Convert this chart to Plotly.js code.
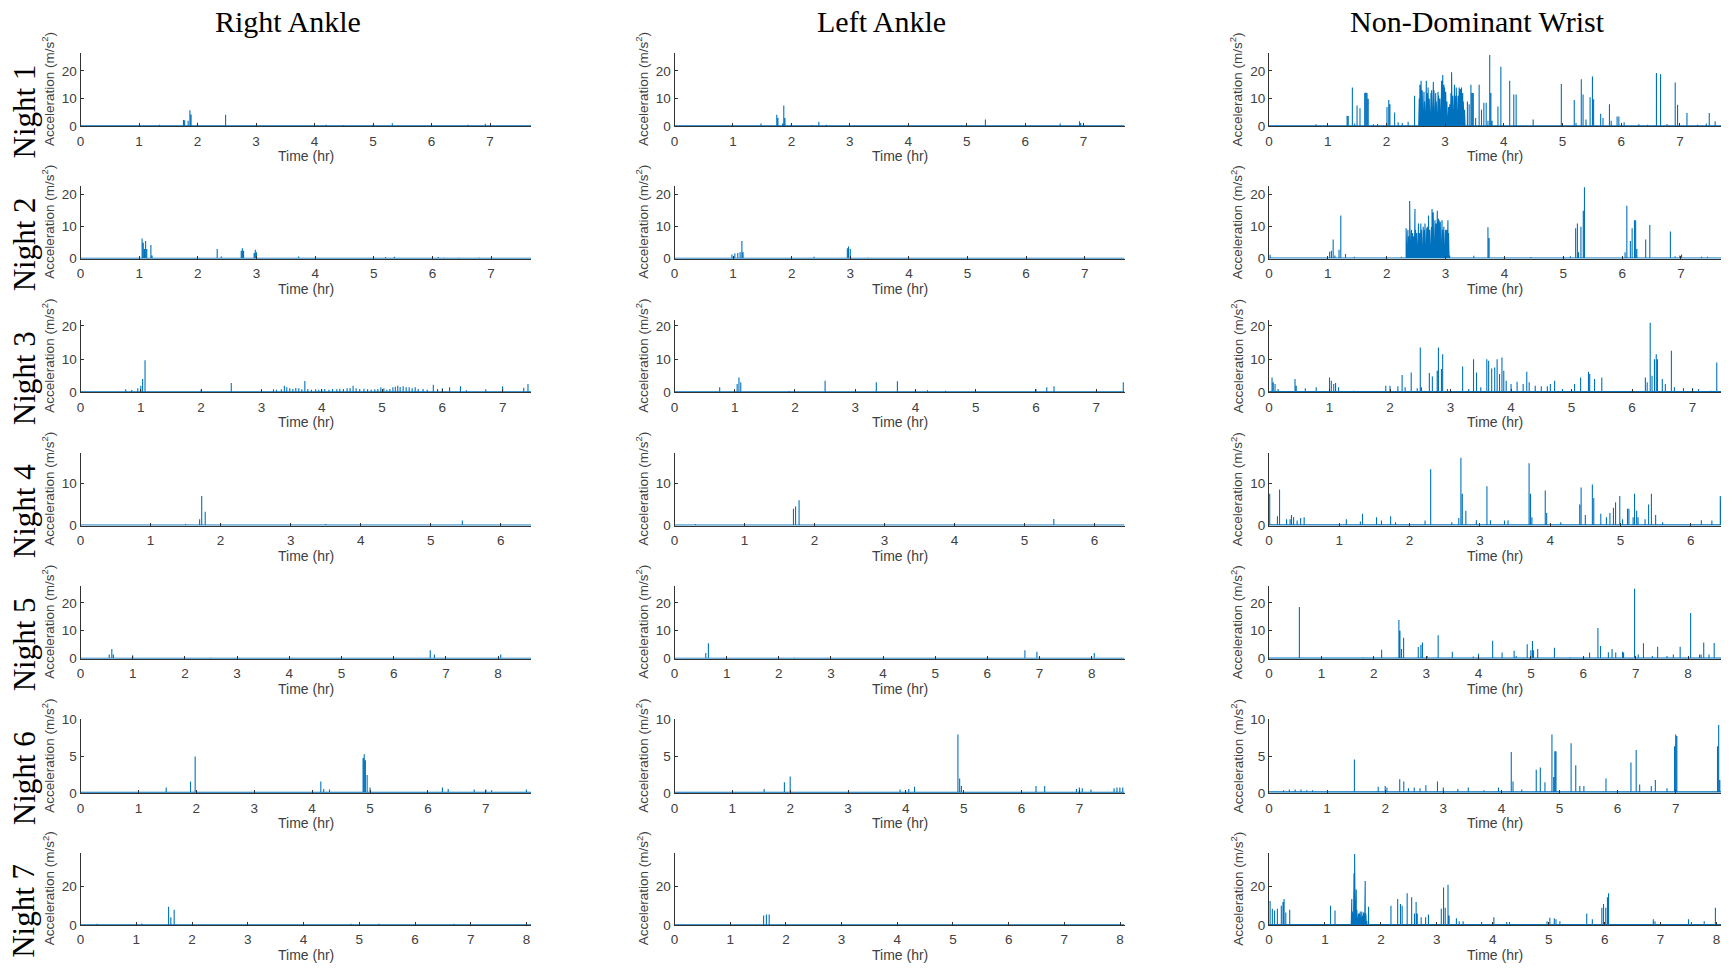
<!DOCTYPE html>
<html>
<head>
<meta charset="utf-8">
<script src="https://cdn.plot.ly/plotly-3.0.1.min.js"></script>
<style>html,body{margin:0;padding:0;background:#fff;}#chart{width:1732px;height:968px;}</style>
</head>
<body>
<div id="chart"></div>
<script>
// ---------------- DATA ----------------
const sensorNames = ['Right Ankle', 'Left Ankle', 'Non-Dominant Wrist'];
const nightNames = ['Night 1', 'Night 2', 'Night 3', 'Night 4', 'Night 5', 'Night 6', 'Night 7'];
const nightHours = [7.7, 7.68, 7.47, 6.43, 8.63, 7.78, 8.08];
const rowYMax = [26.6, 22.7, 21.8, 17.2, 26.0, 10.1, 37.7];
const rowYTicks = [[0, 10, 20], [0, 10, 20], [0, 10, 20], [0, 10], [0, 10, 20], [0, 5, 10], [0, 20]];
const restLevel = [0.15, 0.15, 0.2];
const yTitle = 'Acceleration (m/s<sup>2</sup>)';
const xTitle = 'Time (hr)';

// spikes: [time (hr), peak acceleration (m/s^2)]
const n1Right = [[1.35,0.6],[1.76,2.3],[1.78,2.2],[1.84,2.0],[1.87,5.8],[1.89,4.3],[2.0,1.3],[2.48,4.2],[4.2,0.6],[4.5,0.5],[5.0,0.6],[5.33,1.1],[6.62,0.6],[6.92,0.9]];
const n1Left = [[1.48,1.0],[1.75,4.2],[1.77,3.0],[1.85,1.0],[1.87,7.5],[1.89,3.0],[2.0,0.9],[2.35,0.5],[2.47,1.6],[2.6,0.6],[2.8,0.4],[5.32,2.5],[6.6,1.0],[6.93,1.8],[6.95,1.2]];
const n1Wrist = [[0.8,0.7],[1.33,3.8],[1.35,3.7],[1.42,14],[1.46,1],[1.5,7.5],[1.55,6.5],[1.63,12],[1.65,12.2],[1.67,12],[1.69,10],[1.78,0.7],[1.85,0.8],[2.01,7],[2.04,9.5],[2.06,8],[2.14,5],[2.2,1.5],[2.27,1.2],[2.37,1.6],
 [2.48,11],[2.55,6],[2.56,10],[2.57,15],[2.58,12],[2.59,16.5],[2.60,14],[2.61,13],[2.62,8],[2.63,10],[2.64,12.5],[2.65,9],[2.66,6],[2.67,11],[2.68,16.5],[2.69,12],[2.70,10],[2.71,14],[2.72,11],[2.73,10],[2.74,9],[2.75,10.5],[2.76,12],[2.77,13],[2.78,9],[2.79,11],[2.80,16],[2.81,13],[2.82,10],[2.83,10],[2.84,12],[2.85,9],[2.86,7],[2.87,10],[2.88,12.5],[2.89,11],[2.90,9],[2.91,10],[2.92,8],[2.93,9],[2.94,16.5],[2.95,13],[2.96,18.5],[2.97,12],[2.98,15],[2.99,14],[3.00,11],[3.01,12.5],[3.02,10],[3.03,9],[3.04,8],[3.05,6],[3.06,7],[3.07,4],[3.08,8],[3.09,10],[3.10,12],[3.11,19.5],[3.12,14.5],[3.13,11],[3.14,9],[3.15,12],[3.16,15],[3.17,11],[3.18,10],[3.19,14],[3.20,10],[3.21,8],[3.22,11],[3.23,12],[3.24,14],[3.25,12],[3.26,13.5],[3.27,10],[3.28,14],[3.29,11],[3.30,12],[3.31,9],[3.32,8],[3.33,6],[3.34,4],[3.38,9],[3.41,8],[3.44,15],[3.46,12],[3.48,12],[3.52,3],[3.58,15],[3.62,6],[3.66,8.5],[3.70,8.5],[3.73,2],[3.76,25.8],[3.78,12],[3.80,2],
 [3.9,7.2],[3.95,21.5],[4.1,16.5],[4.17,11.5],[4.21,11.5],[4.5,2.5],[4.98,15.3],[5.2,9.5],[5.23,1.2],[5.32,17],[5.35,11.5],[5.4,2.5],[5.47,10.5],[5.51,18],[5.53,9.8],[5.65,4.5],[5.69,3],[5.8,8],[5.83,2],[5.93,3.5],[5.96,3.5],[6.05,1.5],[6.3,0.7],[6.45,0.6],[6.6,19.3],[6.67,18.8],[6.78,0.8],[6.92,15.8],[6.96,7.8],[7.12,4.8],[7.3,0.6],[7.45,1],[7.5,4.8],[7.6,1.8]];

const n2Right = [[1.05,6.3],[1.07,5.0],[1.09,3.0],[1.11,5.5],[1.13,3],[1.2,4.3],[1.22,1],[2.33,3.0],[2.4,0.7],[2.74,2.5],[2.76,3.3],[2.78,2.5],[2.96,1.8],[2.98,2.8],[3.0,2.0],[3.72,0.7],[5.2,0.5],[5.35,0.6],[6.1,0.5],[6.2,0.4],[6.45,0.4],[6.8,0.4]];
const n2Left = [[0.98,1.3],[1.03,1.6],[1.08,1.8],[1.12,2],[1.15,5.5],[1.17,2],[2.38,0.6],[2.95,3.3],[2.97,3.8],[3.0,3.0],[3.3,0.4],[4.4,0.3],[5.3,0.3]];
const n2Wrist = [[0.02,1.2],[1.03,2.2],[1.06,2.5],[1.09,6],[1.12,1],[1.19,2.8],[1.22,13.5],[1.3,1.5],[1.45,0.6],[2.25,0.6],
 [2.33,9.5],[2.34,8],[2.35,7],[2.36,9],[2.37,6.5],[2.38,7],[2.39,18],[2.40,10],[2.41,8],[2.42,9],[2.43,7],[2.44,8],[2.45,6],[2.46,7],[2.47,9],[2.48,15.5],[2.49,9],[2.50,7],[2.51,8],[2.52,8],[2.53,9],[2.54,11],[2.55,6],[2.56,8],[2.57,9],[2.58,11],[2.59,9],[2.60,7],[2.61,8],[2.62,10],[2.63,8],[2.64,9],[2.65,11],[2.66,8],[2.67,7],[2.68,9.5],[2.69,10],[2.70,8],[2.71,13.5],[2.72,9],[2.73,9],[2.74,8],[2.75,9],[2.76,10],[2.77,15.5],[2.78,11],[2.79,14.5],[2.80,9],[2.81,10],[2.82,12],[2.83,10],[2.84,11],[2.85,12],[2.86,15],[2.87,10],[2.88,12.5],[2.89,12],[2.90,10],[2.91,11.5],[2.92,11],[2.93,10],[2.94,12],[2.95,9],[2.96,9],[2.97,10],[2.98,8],[2.99,7],[3.00,9],[3.01,8],[3.02,9],[3.03,10],[3.04,12],[3.05,8],[3.06,7],[3.07,1],
 [3.48,0.9],[3.72,9.8],[3.74,6.5],[4.45,0.5],[5.0,0.6],[5.12,0.8],[5.21,9.5],[5.24,11],[5.26,2],[5.3,10],[5.34,15],[5.36,22.3],[6.05,2],[6.08,16.5],[6.14,5.5],[6.17,9.5],[6.21,12],[6.23,12],[6.25,3],[6.4,6],[6.47,10.5],[6.82,8.5],[6.9,0.8],[6.98,1],[7.01,1.3],[7.35,0.6],[7.45,0.6]];

const n3Right = [[0.75,0.9],[0.85,0.7],[0.95,1.2],[1.0,2.0],[1.03,4.0],[1.07,9.7],[2.0,0.8],[2.5,2.8],[3.0,0.6],[3.2,0.9],[3.25,0.8],[3.33,0.9],[3.38,2.0],[3.42,1.5],[3.47,1.2],[3.52,1.0],[3.57,1.3],[3.62,1.2],[3.67,0.9],[3.72,3.4],[3.77,1.0],[3.83,0.8],[3.9,0.9],[3.95,0.8],[4.0,0.9],[4.05,1.0],[4.12,0.8],[4.18,1.0],[4.25,0.9],[4.3,1.1],[4.36,1.0],[4.42,1.2],[4.47,1.3],[4.52,2.0],[4.57,1.2],[4.63,1.0],[4.7,1.1],[4.76,0.9],[4.82,0.8],[4.88,0.9],[4.93,1.0],[4.98,1.5],[5.03,1.2],[5.08,0.8],[5.13,1.0],[5.18,1.5],[5.22,1.7],[5.26,2.0],[5.3,1.6],[5.35,1.8],[5.4,1.5],[5.45,1.5],[5.5,1.2],[5.55,1.5],[5.6,1.0],[5.68,1.0],[5.75,0.8],[5.85,2.3],[5.92,1.0],[6.0,1.2],[6.12,1.5],[6.3,1.8],[6.4,0.6],[6.72,0.9],[7.0,1.8],[7.35,1.4],[7.42,2.5]];
const n3Left = [[0.75,1.5],[1.04,2.5],[1.07,4.5],[1.1,3],[1.9,0.4],[2.5,3.5],[3.35,3.0],[3.7,3.3],[4.0,0.8],[4.2,0.6],[4.5,0.5],[5.0,0.4],[6.0,1.0],[6.18,1.5],[6.3,1.8],[7.45,3.0]];
const n3Wrist = [[0.05,4.5],[0.07,3],[0.1,2.5],[0.15,1],[0.43,4],[0.45,2],[0.6,1.2],[0.78,1.5],[1.0,4.5],[1.03,3.5],[1.07,2.5],[1.1,2.8],[1.15,1.5],[1.4,0.5],[1.93,2.0],[2.0,2],[2.13,1.8],[2.2,5.2],[2.25,1.5],[2.35,6],[2.45,1.2],[2.5,13.5],[2.52,1.5],[2.65,5.8],[2.7,4.8],[2.78,6.5],[2.8,13.5],[2.85,7],[2.87,11.5],[2.95,1],[3.2,7.8],[3.3,1],[3.38,10],[3.43,6],[3.5,1.5],[3.6,10],[3.63,9.5],[3.68,7.2],[3.73,7.5],[3.77,10],[3.81,5.5],[3.85,10.5],[3.88,6.5],[3.92,3.5],[4.0,2.5],[4.1,3.2],[4.2,2.5],[4.26,6.2],[4.3,3],[4.4,2.0],[4.5,1.8],[4.6,1.8],[4.65,2.5],[4.72,3.5],[4.85,1],[5.05,2.5],[5.15,4.5],[5.28,6.2],[5.3,5.5],[5.38,4],[5.5,4.5],[6.0,0.5],[6.22,4.5],[6.25,3],[6.3,21],[6.33,5],[6.37,10],[6.4,11.5],[6.42,10],[6.5,4],[6.55,2.5],[6.65,12.5],[6.7,1.5],[6.85,1.3],[7.0,1.3],[7.1,1],[7.3,0.5],[7.4,9]];

const n4Right = [[1.5,0.4],[1.7,1.5],[1.73,7.0],[1.78,3.3],[3.5,0.4],[5.45,1.2]];
const n4Left = [[0.3,0.4],[1.0,0.5],[1.7,4.0],[1.73,4.5],[1.78,6.0],[4.0,0.5],[5.42,1.6]];
const n4Wrist = [[0.01,7.5],[0.12,2.2],[0.15,8.5],[0.25,1.5],[0.3,1.5],[0.32,2.5],[0.35,2],[0.4,1.2],[0.45,1.8],[0.5,2.0],[1.1,1.5],[1.3,1],[1.33,2.8],[1.53,2],[1.6,1.2],[1.73,2.2],[1.8,0.8],[2.22,1.2],[2.3,13.3],[2.6,0.8],[2.7,1.8],[2.73,16],[2.75,7.5],[2.8,3.5],[2.95,1.3],[3.1,9.3],[3.15,1.3],[3.35,1.2],[3.4,1.3],[3.7,14.7],[3.72,7.5],[3.74,2],[3.93,8.3],[3.95,3],[4.15,0.8],[4.42,5],[4.44,9],[4.5,2.5],[4.6,9.7],[4.62,6.5],[4.72,2.8],[4.8,2],[4.85,3],[4.9,4.2],[4.93,5.5],[4.99,7],[5.03,1.5],[5.1,4.0],[5.12,4.0],[5.18,2],[5.2,7.5],[5.23,3.5],[5.25,2],[5.35,1.5],[5.4,5],[5.44,7.5],[5.5,2.5],[5.6,0.8],[6.15,1.3],[6.3,1.2],[6.42,7]];

const n5Right = [[0.55,1.5],[0.6,3.5],[0.63,1.5],[1.0,1.2],[2.5,0.4],[6.7,3.0],[6.78,1.5],[8.05,1.5]];
const n5Left = [[0.6,2.0],[0.65,5.5],[2.3,0.4],[6.72,3.0],[6.95,2.5],[8.05,2.0]];
const n5Wrist = [[0.58,18.5],[1.8,0.5],[2.15,3.2],[2.48,13.8],[2.5,10],[2.53,3.5],[2.57,7.5],[2.85,4.2],[2.9,5],[2.93,5.8],[3.02,1],[3.23,8.4],[3.5,2.5],[3.9,0.8],[4.0,1.8],[4.27,6.4],[4.45,2.2],[4.68,2.8],[4.72,1],[4.93,5.2],[5.0,3],[5.03,6.3],[5.05,3],[5.13,3.5],[5.45,3.9],[5.75,0.5],[6.12,2.2],[6.28,11],[6.33,4.5],[6.48,2.3],[6.55,3.5],[6.62,2.2],[6.75,2.5],[6.77,2.2],[6.98,25],[7.05,1.5],[7.15,5.5],[7.32,1],[7.42,4.3],[7.6,1],[7.72,1.5],[7.85,4.3],[8.05,16.3],[8.22,1.5],[8.25,1.5],[8.3,5.8],[8.4,1.5],[8.5,5.6]];

const n6Right = [[1.48,0.8],[1.9,1.6],[1.98,5.0],[4.15,1.6],[4.2,0.6],[4.3,0.5],[4.88,4.8],[4.9,5.3],[4.92,4.5],[4.95,2.5],[5.0,0.8],[6.25,0.8],[6.35,0.6],[6.8,0.5],[7.0,0.5],[7.1,0.4],[7.7,0.5]];
const n6Left = [[1.55,0.6],[1.9,1.5],[2.0,2.3],[3.9,0.5],[4.05,0.6],[4.15,0.9],[4.9,8.0],[4.93,2.0],[4.96,1.0],[6.25,1.0],[6.4,1.0],[6.95,0.6],[7.0,0.8],[7.05,0.7],[7.2,0.5],[7.6,0.7],[7.65,0.8],[7.7,0.8],[7.75,0.8]];
const n6Wrist = [[0.25,0.4],[0.35,0.5],[0.45,0.5],[0.55,0.5],[0.65,0.4],[0.75,0.4],[1.47,4.6],[1.88,0.9],[2.0,1],[2.03,0.8],[2.25,1.9],[2.32,1.6],[2.4,0.7],[2.5,0.8],[2.6,0.7],[2.7,1.1],[2.9,1.6],[3.0,0.8],[3.25,0.6],[3.43,0.8],[3.7,0.4],[3.95,0.8],[4.17,5.6],[4.2,1.6],[4.35,0.5],[4.6,3.2],[4.67,3.5],[4.75,1.5],[4.87,8],[4.9,2.2],[4.92,5.7],[4.94,5.7],[5.2,6.8],[5.28,3.8],[5.35,1],[5.42,1],[5.8,2.0],[6.23,4.2],[6.32,5.9],[6.38,1.2],[6.58,1],[6.65,1.8],[6.85,0.7],[6.98,6.4],[7.0,8],[7.02,7.8],[7.72,6.4],[7.74,9.3],[7.76,1.8]];

const n7Right = [[0.3,0.7],[1.1,0.8],[1.58,9.5],[1.62,4.0],[1.68,8.0],[4.85,0.7],[5.35,0.6],[6.7,0.6]];
const n7Left = [[1.6,5.0],[1.65,5.5],[1.7,5.5]];
const n7Wrist = [[0.02,12.5],[0.06,8.5],[0.1,7.5],[0.15,8.5],[0.22,10],[0.25,12],[0.27,13.5],[0.3,6.5],[0.37,8],[1.1,10],[1.18,7.5],[1.47,6],[1.48,13.5],[1.49,7],[1.50,6],[1.51,8],[1.52,27],[1.53,37],[1.54,14],[1.55,15],[1.56,18.5],[1.57,8],[1.58,6],[1.59,5],[1.60,6],[1.61,6],[1.62,5],[1.63,7],[1.64,6],[1.65,6],[1.66,7],[1.67,5],[1.68,5],[1.69,6.5],[1.70,4],[1.71,5],[1.72,23],[1.73,6],[1.74,5],[1.75,2],[1.78,9.5],[2.18,10],[2.3,13.5],[2.35,11],[2.38,10],[2.47,16.5],[2.55,14.5],[2.6,6],[2.63,12],[2.65,6],[2.72,4],[2.8,4],[2.85,5.5],[3.08,8.5],[3.12,19.5],[3.15,9],[3.2,21],[3.22,5],[3.35,3.5],[3.4,2],[3.47,2],[3.8,1.5],[4.02,4],[4.25,1.5],[4.3,1.5],[4.97,2],[5.02,3.8],[5.1,3.5],[5.13,3],[5.2,2],[5.68,6],[5.78,3],[5.95,9],[5.98,11],[6.02,9],[6.05,14.5],[6.07,16.5],[6.45,0.5],[6.87,3],[6.9,2],[7.5,3],[7.55,1.5],[7.78,2],[7.98,9]];

const panelData = [
  [n1Right, n1Left, n1Wrist],
  [n2Right, n2Left, n2Wrist],
  [n3Right, n3Left, n3Wrist],
  [n4Right, n4Left, n4Wrist],
  [n5Right, n5Left, n5Wrist],
  [n6Right, n6Left, n6Wrist],
  [n7Right, n7Left, n7Wrist]
];

// ---------------- LAYOUT GEOMETRY ----------------
const W = 1732, H = 968;
const colPx = [[80.5, 531], [674.5, 1124.5], [1269, 1721]];
const rowPx = [[52.7, 126.3], [186, 258.7], [320, 392.3], [452.7, 525.7], [586, 658.7], [719, 793.3], [852.7, 925]];
const axisColor = '#333333';
const textGray = '#404040';
const sansFont = 'Liberation Sans, Arial, sans-serif';
const serifFont = 'Liberation Serif, Times New Roman, serif';

const traces = [];
const layout = {
  width: W, height: H,
  margin: {l: 0, r: 0, t: 0, b: 0},
  paper_bgcolor: '#ffffff', plot_bgcolor: 'rgba(0,0,0,0)',
  showlegend: false,
  annotations: []
};

for (let r = 0; r < 7; r++) {
  for (let c = 0; c < 3; c++) {
    const idx = r * 3 + c + 1;
    const sx = idx === 1 ? '' : String(idx);
    const rest = restLevel[c];
    const spikes = panelData[r][c].slice().sort((a, b) => a[0] - b[0]);
    const xs = [0], ys = [rest];
    spikes.forEach(([t, a]) => { xs.push(t, t, t); ys.push(rest, a, rest); });
    xs.push(nightHours[r]); ys.push(rest);
    traces.push({
      type: 'scatter', mode: 'lines', x: xs, y: ys,
      xaxis: 'x' + sx, yaxis: 'y' + sx,
      line: {color: '#0072BD', width: 1.1},
      hoverinfo: 'skip'
    });
    const [x0, x1] = colPx[c];
    const [y0, y1] = rowPx[r];
    const xt = [];
    for (let k = 0; k <= Math.floor(nightHours[r]); k++) xt.push(k);
    layout['xaxis' + sx] = {
      domain: [x0 / W, x1 / W], anchor: 'y' + sx,
      range: [0, nightHours[r]], tickvals: xt, ticktext: xt.map(String),
      showline: true, linecolor: axisColor, linewidth: 1,
      ticks: 'inside', ticklen: 3, tickcolor: axisColor, tickwidth: 1,
      showgrid: false, zeroline: false, ticklabelstandoff: 2,
      tickfont: {family: sansFont, size: 13.5, color: textGray}, fixedrange: true
    };
    layout['yaxis' + sx] = {
      domain: [1 - y1 / H, 1 - y0 / H], anchor: 'x' + sx,
      range: [0, rowYMax[r]], tickvals: rowYTicks[r], ticktext: rowYTicks[r].map(String),
      showline: true, linecolor: axisColor, linewidth: 1,
      ticks: 'inside', ticklen: 3, tickcolor: axisColor, tickwidth: 1,
      showgrid: false, zeroline: false,
      tickfont: {family: sansFont, size: 13.5, color: textGray}, fixedrange: true
    };
    // y-axis title
    layout.annotations.push({
      xref: 'paper', yref: 'paper', x: (x0 - 32) / W, y: 1 - ((y0 + y1) / 2) / H,
      xanchor: 'center', yanchor: 'middle', textangle: -90, showarrow: false,
      text: yTitle, font: {family: sansFont, size: 13.5, color: textGray}
    });
    // x-axis title
    layout.annotations.push({
      xref: 'paper', yref: 'paper', x: ((x0 + x1) / 2) / W, y: 1 - (y1 + 30) / H,
      xanchor: 'center', yanchor: 'middle', showarrow: false,
      text: xTitle, font: {family: sansFont, size: 14, color: textGray}
    });
  }
  // night label
  layout.annotations.push({
    xref: 'paper', yref: 'paper', x: 24 / W, y: 1 - (((rowPx[r][0] + rowPx[r][1]) / 2) + 22) / H,
    xanchor: 'center', yanchor: 'middle', textangle: -90, showarrow: false,
    text: nightNames[r], font: {family: serifFont, size: 31, color: '#000000'}
  });
}
// column titles
for (let c = 0; c < 3; c++) {
  layout.annotations.push({
    xref: 'paper', yref: 'paper', x: ((colPx[c][0] + colPx[c][1]) / 2 - 18) / W, y: 1 - 22 / H,
    xanchor: 'center', yanchor: 'middle', showarrow: false,
    text: sensorNames[c], font: {family: serifFont, size: 30, color: '#000000'}
  });
}

Plotly.newPlot('chart', traces, layout, {displayModeBar: false, staticPlot: true});
</script>
</body>
</html>
